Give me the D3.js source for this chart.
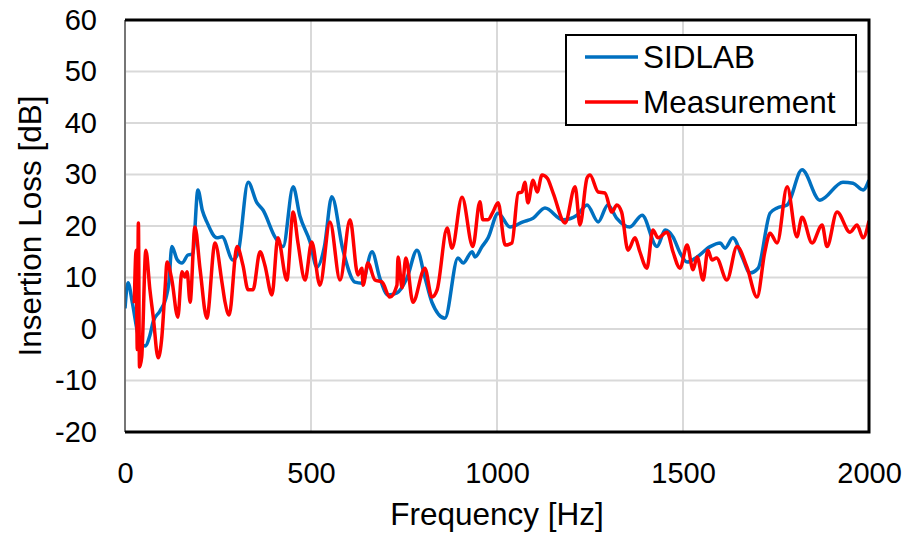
<!DOCTYPE html>
<html>
<head>
<meta charset="utf-8">
<script src="https://cdn.jsdelivr.net/npm/d3@7"></script>
<style>
  body { margin: 0; background: #fff; }
  text { font-family: "Liberation Sans", Arial, sans-serif; }
</style>
</head>
<body>
<div id="chart"></div>
<script>
// SIDLAB prediction
const sidFreq = [0, 8, 20, 35, 54, 67, 76, 94, 110, 118, 126, 140, 153, 170, 182, 196, 208, 220, 247, 261, 290, 304,
  331, 354, 371, 403, 425, 452, 470, 497, 516, 536, 556, 586, 618, 637, 664, 685, 707, 731, 758, 785, 806, 825, 860,
  895, 909, 933, 941, 960, 976, 1003, 1035, 1070, 1097, 1129, 1177, 1215, 1242, 1272, 1298, 1322, 1357, 1390, 1430,
  1452, 1473, 1492, 1511, 1538, 1573, 1600, 1613, 1634, 1659, 1680, 1702, 1734, 1753, 1780, 1820, 1868, 1930, 1957,
  1984, 2000];
const sidVals = [4, 9, 5, -1, -3.3, -1.2, 1.5, 3.5, 6, 9, 16, 13.5, 12.8, 14.4, 14.5, 27, 23, 20.8, 17.7, 17.9, 13.4, 14.8,
  28.5, 24.6, 23.1, 17.9, 16, 27.6, 22, 17, 12, 16, 25.7, 15.3, 9.1, 8.9, 15, 9.9, 6.6, 7, 9.9, 15.3, 10.1, 5.2, 2.1,
  13.8, 12.8, 15, 14, 16, 17.7, 22.5, 19.8, 20.8, 21.5, 23.5, 21.2, 22.1, 24.1, 20.8, 24.1, 21.5, 19.8, 22.1, 16,
  19.2, 17.9, 14.8, 13, 14, 16, 16.7, 15.7, 17.7, 14, 10.9, 11.8, 22.5, 23.5, 24.1, 30.9, 25, 28.5, 28.3,
  27, 28.9];

// measurement
const measFreq = [25, 30, 33, 36, 39, 45, 56, 67, 76, 89, 99, 108, 113, 126, 142, 153, 161, 167, 175, 188, 202, 220,
  242, 261, 269, 280, 301, 317, 331, 344, 363, 376, 395, 411, 435, 452, 465, 484, 502, 524, 551, 578, 605, 626, 637,
  640, 653, 672, 691, 712, 731, 734, 745, 755, 774, 806, 825, 839, 866, 879, 906, 935, 954, 962, 976, 989, 1003,
  1022, 1040, 1057, 1067, 1075, 1083, 1097, 1108, 1121, 1135, 1151, 1183, 1210, 1223, 1242, 1250, 1272, 1290, 1309,
  1322, 1335, 1352, 1371, 1384, 1403, 1419, 1433, 1457, 1473, 1492, 1511, 1527, 1538, 1554, 1567, 1578, 1590, 1618,
  1645, 1672, 1699, 1720, 1734, 1753, 1780, 1806, 1820, 1847, 1874, 1887, 1914, 1949, 1968, 1984, 2000];
const measVals = [5, 15.3, -4, 20.6, -7.4, -5.4, 15.3, 7.6, 2.3, -5.6, -1.6, 8.2, 13, 9.5, 2.3, 11.1, 10.1, 11.1, 5.2, 19.8, 11.5, 2.1,
  16.7, 8.9, 5.2, 2.7, 16, 12.4, 7.6, 7.6, 15, 12.4, 6.6, 17.7, 9.5, 22.7, 16.7, 9.5, 16.9, 8.5, 20.8, 9.5, 21.2, 10.5, 11.8,
  8.5, 12.8, 9.5, 9.1, 6.2, 8.5, 14, 8, 13.8, 5.2, 11.8, 6.2, 7.6, 19.6, 15.7, 25.6, 16, 24.7, 21.2, 21.2, 22.7, 24.5,
  16.3, 16.7, 26.4, 26.6, 28.5, 24.5, 28.9, 26.6, 29.9, 29.3, 26.4, 20.6, 27.6, 20.2, 29.3, 29.9, 26.6, 26.4, 22.7,
  24.1, 22.7, 15.3, 17.7, 15, 11.8, 19.2, 17.7, 18.8, 15, 11.8, 16.3, 11.5, 14, 9.5, 15.3, 13.4, 13.8, 9.5,
  16, 12, 6.2, 15, 18.6, 16.7, 27.6, 17.9, 21.7, 16.7, 20.2, 16, 22.7, 18.8, 20.2, 17.7, 21];

const xTicks = [0, 500, 1000, 1500, 2000];
const yTicks = [-20, -10, 0, 10, 20, 30, 40, 50, 60];
const seriesNames = ["SIDLAB", "Measurement"];
const seriesColors = ["#0070C0", "#FF0000"];

const W = 907, H = 535;
const margin = { top: 20, right: 38, bottom: 103, left: 125 };
const width = W - margin.left - margin.right,
      height = H - margin.top - margin.bottom;

const svg = d3.select("#chart").append("svg")
    .attr("width", W).attr("height", H);
const g = svg.append("g")
    .attr("transform", `translate(${margin.left},${margin.top})`);

const x = d3.scaleLinear().domain([0, 2000]).range([0, width]);
const y = d3.scaleLinear().domain([-20, 60]).range([height, 0]);

// grid
g.append("g").selectAll("line").data(yTicks).join("line")
    .attr("x1", 0).attr("x2", width)
    .attr("y1", d => y(d)).attr("y2", d => y(d))
    .attr("stroke", "#d9d9d9").attr("stroke-width", 2);
g.append("g").selectAll("line").data(xTicks).join("line")
    .attr("y1", 0).attr("y2", height)
    .attr("x1", d => x(d)).attr("x2", d => x(d))
    .attr("stroke", "#d9d9d9").attr("stroke-width", 2);

// axes (labels only)
const plain = d => String(d);
const xAxis = g.append("g")
    .attr("transform", `translate(0,${height})`)
    .call(d3.axisBottom(x).tickValues(xTicks).tickFormat(plain).tickSize(0).tickPadding(30));
const yAxis = g.append("g")
    .call(d3.axisLeft(y).tickValues(yTicks).tickFormat(plain).tickSize(0).tickPadding(28));
[xAxis, yAxis].forEach(a => {
  a.select(".domain").remove();
  a.selectAll("text").attr("font-size", 29).attr("fill", "#000")
      .style("font-family", '"Liberation Sans", Arial, sans-serif');
});

// lines
g.append("clipPath").attr("id", "clip").append("rect")
    .attr("width", width).attr("height", height);
const line = d3.line()
    .x(d => x(d[0])).y(d => y(d[1]))
    .curve(d3.curveMonotoneX);
const series = [d3.zip(sidFreq, sidVals), d3.zip(measFreq, measVals)];
// measurement is drawn on top
g.append("g").attr("clip-path", "url(#clip)")
  .selectAll("path").data(series).join("path")
    .attr("d", line)
    .attr("fill", "none")
    .attr("stroke", (d, i) => seriesColors[i])
    .attr("stroke-width", 3.5)
    .attr("stroke-linejoin", "round");

// frame
g.append("line").attr("x1", 0).attr("x2", 0).attr("y1", 0).attr("y2", height)
    .attr("stroke", "#555").attr("stroke-width", 1.5);
g.append("path")
    .attr("d", `M0,0H${width}V${height}H0`)
    .attr("fill", "none").attr("stroke", "#000").attr("stroke-width", 3);

// axis titles
svg.append("text")
    .attr("x", margin.left + width / 2).attr("y", 525)
    .attr("text-anchor", "middle").attr("font-size", 31.5)
    .text("Frequency [Hz]");
svg.append("text")
    .attr("transform", `translate(41,${margin.top + height / 2}) rotate(-90)`)
    .attr("text-anchor", "middle").attr("font-size", 31.5)
    .text("Insertion Loss [dB]");

// legend
const legend = svg.append("g");
legend.append("rect")
    .attr("x", 566).attr("y", 35).attr("width", 290).attr("height", 90)
    .attr("fill", "#fff").attr("stroke", "#000").attr("stroke-width", 2);
seriesNames.forEach((name, i) => {
  const ly = 57 + i * 45;
  legend.append("line")
      .attr("x1", 585).attr("x2", 638).attr("y1", ly).attr("y2", ly)
      .attr("stroke", seriesColors[i]).attr("stroke-width", 3.5);
  legend.append("text")
      .attr("x", 643).attr("y", ly + 11)
      .attr("font-size", 31.5)
      .text(name);
});
</script>
</body>
</html>
